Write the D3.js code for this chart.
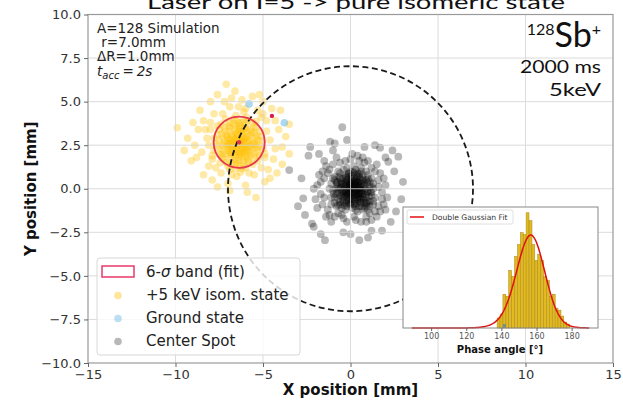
<!DOCTYPE html>
<html><head><meta charset="utf-8">
<script src="https://cdn.jsdelivr.net/npm/d3@7"></script>
<style>body{margin:0;background:#fff;} svg{display:block;}</style>
</head><body><svg id="c" width="623" height="401"></svg>
<script>
// ---- axis ticks ----
const xTicks = [-15, -10, -5, 0, 5, 10, 15];
const yTicks = [-10, -7.5, -5, -2.5, 0, 2.5, 5, 7.5, 10];
const phaseTicks = [100, 120, 140, 160, 180];

// ---- simulated ion hits [x mm, y mm] ----
const isomPoints = [
 [-6.4,2.6],[-6.0,2.9],[-6.8,2.3],[-5.9,2.2],[-7.0,2.9],[-6.2,3.3],[-6.6,1.9],[-5.5,2.7],[-7.3,2.5],[-6.1,1.6],
 [-6.9,3.5],[-5.7,3.4],[-7.5,2.0],[-5.3,2.1],[-6.5,3.9],[-6.3,1.3],[-7.6,3.1],[-5.1,3.0],[-5.8,1.5],[-7.1,1.5],
 [-6.7,2.7],[-6.2,2.4],[-5.9,2.6],[-6.5,2.2],[-6.9,2.1],[-6.0,3.5],[-6.4,3.0],[-5.6,2.3],[-7.2,3.3],[-6.6,1.4],
 [-5.4,3.5],[-7.7,2.6],[-6.1,3.9],[-5.2,2.5],[-6.9,1.1],[-7.4,3.7],[-5.5,1.8],[-6.3,2.0],[-6.8,3.1],[-5.8,3.0],
 [-7.0,2.4],[-6.2,2.8],[-5.7,1.9],[-6.6,3.4],[-5.0,2.3],[-7.8,2.2],[-6.4,1.6],[-5.6,3.8],[-7.3,1.8],[-6.0,1.2],
 [-6.7,4.0],[-5.3,1.6],[-7.5,3.4],[-6.1,2.1],[-6.5,2.9],[-5.9,3.3],[-6.9,2.6],[-6.3,3.6],[-5.4,2.9],[-7.1,2.0],
 [-6.3,2.5],[-6.1,2.7],[-6.6,2.8],[-6.5,2.4],[-6.2,3.1],[-6.8,2.5],[-6.0,2.4],[-6.4,2.1],[-6.7,2.2],[-5.8,2.8],
 [-6.9,2.8],[-6.3,3.3],[-5.9,2.0],[-7.0,2.2],[-6.5,3.2],[-5.6,2.6],[-7.2,2.7],[-6.2,1.8],[-6.8,1.8],[-5.7,3.1],
 [-7.1,3.1],[-6.0,3.7],[-6.6,3.6],[-5.4,2.4],[-7.4,2.3],[-6.4,1.8],[-5.9,1.8],[-6.9,3.3],[-5.5,3.2],[-7.3,2.9],
 [-6.1,2.9],[-6.5,2.6],[-6.3,2.8],[-6.7,3.0],[-6.0,2.2],[-6.2,2.3],[-6.6,2.1],[-5.8,2.4],[-7.0,2.6],[-6.4,3.4],
 [-5.5,2.0],[-7.2,1.7],[-6.1,1.4],[-6.8,1.5],[-5.3,2.8],[-7.5,2.8],[-6.3,3.8],[-5.9,3.9],[-6.9,3.8],[-5.2,3.3],
 [-8.2,2.9],[-8.5,2.1],[-8.0,3.8],[-4.6,2.8],[-4.4,1.7],[-4.8,3.9],[-6.0,4.6],[-6.9,4.7],[-5.3,4.5],[-7.8,4.3],
 [-6.5,0.7],[-7.4,0.9],[-5.5,0.8],[-4.7,1.1],[-8.1,1.3],[-8.7,3.4],[-3.9,2.4],[-4.1,3.4],[-6.2,5.1],[-7.2,5.0],
 [-5.6,5.3],[-8.9,2.5],[-7.0,0.3],[-6.0,0.2],[-4.9,0.4],[-8.4,0.8],[-9.3,2.9],[-3.5,2.0],[-3.7,3.0],[-6.6,5.6],
 [-7.1,6.0],[-6.9,-0.1],[-9.9,3.5],[-9.1,1.6],[-8.6,4.5],[-4.5,4.6],[-5.0,5.0],[-7.6,5.4],[-5.9,-0.2],[-7.6,0.1],
 [-4.2,0.9],[-9.5,2.2],[-3.5,3.7],[-8.0,5.0],[-5.4,-0.5],[-4.9,1.8],[-7.9,1.7],[-8.3,3.4],[-4.3,2.3],[-5.1,4.1],
 [-6.35,2.55],[-6.15,2.85],[-6.55,2.35],[-6.05,2.5],[-6.75,2.65],[-6.45,3.05],[-6.25,2.05],[-5.85,2.65],[-6.95,2.45],[-6.3,3.5],
 [-5.75,2.15],[-7.05,3.0],[-6.6,1.65],[-5.65,3.25],[-7.25,2.15],[-6.1,3.25],[-6.85,1.95],[-5.45,2.55],[-7.35,3.15],[-6.5,1.45],
 [-6.0,1.85],[-6.7,3.75],[-5.35,3.05],[-7.55,2.45],[-6.2,1.15],[-5.95,4.1],[-7.0,1.3],[-5.2,1.9],[-7.6,3.6],[-6.55,4.2],
 [-5.6,1.4],[-7.45,1.5],[-5.05,2.75],[-7.8,2.9],[-6.3,0.95],[-5.4,3.85],[-7.15,4.0],[-4.9,2.0],[-7.9,1.9],[-6.8,0.8],
 [-5.8,0.9],[-6.1,4.4],[-7.3,4.3],[-4.8,3.3],[-8.1,2.5],[-5.1,1.2],[-7.7,1.2],[-5.0,4.3],[-8.0,3.4],[-6.4,4.7],
 [-6.45,2.75],[-6.25,2.65],[-6.65,2.45],[-6.15,2.25],[-6.55,3.15],[-6.85,2.85],[-5.95,2.95],[-6.35,1.95],[-6.75,2.05],[-6.05,3.45],
 [-7.1,2.55],[-5.7,2.45],[-6.4,3.75],[-6.95,3.6],[-5.55,3.55],[-7.4,1.95],[-5.3,2.35],[-6.6,1.15],[-5.85,1.6],[-7.2,3.55],
 [-8.4,3.9],[-4.3,3.9],[-4.6,0.6],[-8.8,1.8],[-5.2,5.4],[-7.9,0.5],[-3.9,1.4],[-9.0,3.8],[-6.8,5.2],[-4.0,4.5]
];
const groundPoints = [[-5.8,4.87],[-3.78,3.79]];
const flaggedPoints = [[-4.49,4.18]];
const centerPoints = [
 [0.1,-0.1],[0.3,0.1],[-0.2,0.2],[0.4,-0.3],[-0.1,-0.4],[0.2,0.4],[-0.4,-0.1],[0.5,0.2],[0.0,0.3],[0.6,-0.1],
 [-0.3,-0.4],[0.3,-0.5],[-0.1,0.1],[0.2,-0.2],[-0.5,0.3],[0.4,0.4],[0.0,-0.6],[0.6,-0.5],[-0.3,0.4],[0.1,0.5],
 [-0.4,-0.5],[0.5,-0.3],[-0.2,-0.2],[0.3,0.3],[0.0,0.0],[0.2,-0.4],[-0.1,0.4],[0.4,0.0],[-0.3,0.0],[0.1,-0.3],
 [0.5,0.4],[-0.5,-0.2],[0.2,0.1],[-0.1,-0.6],[0.6,0.1],[0.3,-0.1],[-0.2,0.5],[0.0,-0.2],[0.4,-0.6],[-0.4,0.2],
 [0.1,0.2],[0.5,-0.1],[-0.2,-0.5],[0.3,0.5],[-0.6,0.0],[0.2,-0.6],[0.7,-0.3],[-0.1,-0.1],[0.4,0.2],[0.0,0.4],
 [1.0,-0.2],[0.9,0.5],[-0.8,0.4],[-0.7,-0.6],[0.8,-0.8],[0.2,0.9],[-0.3,0.8],[0.5,-1.0],[-0.2,-1.0],[1.1,0.1],
 [-1.0,-0.1],[0.7,0.8],[-0.6,0.9],[1.0,-0.7],[-0.9,-0.8],[0.3,-1.2],[-0.5,-1.1],[1.2,-0.4],[-1.1,0.3],[0.6,1.0],
 [0.0,1.0],[0.9,-1.0],[-0.8,-0.3],[1.3,0.3],[-0.6,-0.9],[0.4,0.9],[0.8,0.2],[-0.9,0.7],[1.1,-1.0],[-0.4,1.1],
 [0.1,-1.1],[1.2,0.6],[-1.1,-0.5],[0.7,-1.2],[-0.2,0.7],[0.9,-0.5],[-0.7,0.1],[0.5,0.7],[-0.4,-0.8],[1.0,0.8],
 [-1.2,0.0],[0.3,1.1],[0.6,-0.8],[-0.8,-1.0],[1.3,-0.7],[-0.1,0.9],[0.8,-0.1],[-0.6,0.6],[1.1,0.4],[0.2,-0.9],
 [-1.0,0.6],[0.7,0.5],[-0.3,-1.2],[1.2,-0.2],[0.9,1.0],[-0.5,0.3],[0.4,-1.3],[-0.9,-0.5],[1.0,-1.2],[-0.7,1.0],
 [0.0,-0.9],[1.3,0.0],[-1.1,-0.9],[0.6,1.2],[-0.2,1.2],[0.9,-0.8],[-0.8,0.0],[1.4,-0.5],[0.2,1.3],[-0.6,-0.4],
 [1.6,0.5],[-1.5,0.6],[1.4,-1.3],[-1.3,-1.2],[0.5,1.6],[-0.6,1.5],[0.9,-1.6],[-0.4,-1.7],[1.8,-0.2],[-1.7,-0.3],
 [1.2,1.2],[-1.2,1.1],[1.9,-0.9],[-1.6,-0.9],[0.3,-1.8],[-0.9,-1.6],[1.7,0.9],[-1.4,1.3],[0.0,1.7],[1.5,-1.6],
 [-1.9,0.2],[0.8,1.5],[-0.3,1.6],[1.2,-1.8],[-1.2,-1.5],[2.0,0.2],[-1.8,0.8],[0.6,-1.9],[-0.7,-1.4],[1.6,-1.0],
 [-1.5,-0.5],[1.0,1.6],[-1.0,1.4],[1.9,0.6],[-2.0,-0.6],[0.2,-1.6],[-0.2,-1.9],[1.4,1.0],[-1.3,0.9],[1.7,-1.3],
 [-1.6,1.0],[0.9,-1.9],[-0.8,1.8],[2.1,-0.5],[-1.9,-1.1],[0.4,1.9],[1.3,-0.9],[-1.4,-1.6],[1.5,1.4],[-0.5,-1.5],
 [1.8,-0.6],[-1.7,0.4],[0.7,1.8],[-1.1,-1.9],[1.1,-1.4],[-1.5,1.6],[2.0,-1.2],[-2.1,0.0],[0.1,2.0],[1.6,0.1],
 [-0.47,3.53],[-2.7,-0.55],[2.73,1.84],[-1.46,-2.95],[0.5,-2.95],[-3.5,1.07],[2.5,1.0],[-2.4,1.9],[2.3,-1.9],[-2.2,-2.0],
 [-0.9,2.6],[1.4,2.5],[2.9,-0.6],[-2.8,0.6],[0.0,-2.6],[1.8,-2.4],[-1.7,-2.6],[2.4,2.2],[-2.3,2.4],[-0.2,2.8],
 [3.0,0.4],[-3.0,-1.0],[1.0,-2.8],[-1.0,2.2],[2.0,1.8],[0.8,2.4],[-2.6,-1.5],[2.6,-1.3],[-1.8,2.0],[1.2,-2.4],
 [1.69,2.36],[2.16,1.55],[-1.17,2.7],[-2.1,-2.18],[-0.41,-2.5],
 [0.15,0.05],[-0.05,0.25],[0.35,-0.15],[0.25,0.25],[-0.25,-0.25],[0.45,-0.45],[0.05,-0.45],[-0.35,0.15],[0.55,0.05],[0.15,-0.55],
 [0.65,0.3],[-0.15,0.55],[0.75,-0.6],[-0.45,-0.65],[0.35,0.65],[0.85,0.0],[-0.55,0.45],[0.05,0.75],[0.55,-0.75],[-0.25,-0.8],
 [0.95,0.35],[-0.75,-0.2],[0.25,-0.85],[0.7,0.6],[-0.65,0.7],[1.05,-0.45],[-0.15,-0.35],[0.45,0.1],[0.1,0.1],[-0.05,-0.25],
 [0.3,-0.35],[0.6,-0.25],[-0.35,-0.15],[0.2,0.6],[0.85,-0.35],[-0.5,-0.4],[0.4,-0.85],[-0.1,0.85],[0.75,0.15],[-0.8,0.25],
 [1.15,-0.15],[0.5,0.85],[-0.3,0.3],[0.65,-1.0],[-0.6,-0.75],[0.0,-0.8],[0.9,-0.85],[-0.95,-0.3],[0.35,0.8],[1.2,0.15],
 [0.8,-1.1],[-0.2,-0.7],[0.55,0.55],[-0.45,0.6],[0.25,-0.7],[1.0,0.55],[-0.7,-0.95],[0.15,0.95],[0.7,-0.45],[-0.9,0.5],
 [0.45,-0.25],[0.05,0.55],[-0.15,0.0],[0.3,0.45],[0.6,-0.6],[-0.4,-0.3],[0.2,-0.15],[0.8,0.4],[-0.25,0.65],[0.5,-0.55],
 [1.1,-0.75],[-0.55,0.05],[0.0,0.15],[0.4,0.35],[0.65,-0.15],[-0.1,-0.85],[0.3,-1.0],[-0.75,0.35],[0.95,-0.15],[-0.35,-0.95]
];

// ---- fit / geometry (mm) ----
const bandCenter = [-6.36, 2.67];
const bandRadius = 1.46;
const detectorRadius = 7.0;

// ---- phase histogram ----
const phaseBinWidth = 1.65;
const phaseBins = [138.4,140.1,141.7,143.4,145.0,146.7,148.3,150.0,151.6,153.3,154.9,156.6,158.2,
                   159.9,161.5,163.2,164.8,166.5,168.1,169.8,171.4,173.1,174.7,176.4,178.0];
const phaseCounts = [5,7,17,16,29,26,36,42,48,47,58,54,42,34,37,34,26,24,16,17,10,9,6,3,2];
const groundBins = [141.7];
const groundCounts = [2];
// double gaussian fit: [amplitude, mean, sigma]
const fitParams = [[38,157.0,7.6],[9,154.5,10.5]];
const fitRange = [89, 190];

const svg = d3.select("#c");
const FONT = "DejaVu Sans, sans-serif";

const x = d3.scaleLinear().domain([-15, 15]).range([88, 613]);
const y = d3.scaleLinear().domain([-10, 10]).range([363, 14.5]);
const pxPerMm = x(1) - x(0);

// title (runs off the top edge)
svg.append("text").attr("x", 356).attr("y", 9).attr("text-anchor", "middle")
  .attr("font-family", "Lato, 'Open Sans', sans-serif").attr("font-size", 20)
  .attr("textLength", 418).attr("lengthAdjust", "spacingAndGlyphs")
  .attr("fill", "#111").text("Laser on I=5 -> pure isomeric state");

svg.append("rect").attr("x", x(-15)).attr("y", y(10)).attr("width", x(15) - x(-15))
  .attr("height", y(-10) - y(10)).attr("fill", "#fff");

const plot = svg.append("g");
const grid = svg.append("g").attr("stroke", "#d6d6d6").attr("stroke-width", 1).attr("opacity", 0.85);

// scatter layers
plot.selectAll("circle.iso").data(isomPoints).join("circle")
  .attr("cx", d => x(d[0])).attr("cy", d => y(d[1])).attr("r", 3.8)
  .attr("fill", "#ffc107").attr("fill-opacity", 0.36);
plot.selectAll("circle.gnd").data(groundPoints).join("circle")
  .attr("cx", d => x(d[0])).attr("cy", d => y(d[1])).attr("r", 3.8)
  .attr("fill", "#6cb8e6").attr("fill-opacity", 0.55);
plot.selectAll("circle.ctr").data(centerPoints).join("circle")
  .attr("cx", d => x(d[0])).attr("cy", d => y(d[1])).attr("r", 3.9)
  .attr("fill", "#000").attr("fill-opacity", 0.28);
plot.selectAll("circle.flag").data(flaggedPoints).join("circle")
  .attr("cx", d => x(d[0])).attr("cy", d => y(d[1])).attr("r", 2.2)
  .attr("fill", "#d81e4a");

// light grid drawn over the scatter
xTicks.slice(1, -1).forEach(t => grid.append("line")
  .attr("x1", x(t)).attr("x2", x(t)).attr("y1", y(10)).attr("y2", y(-10)));
yTicks.slice(1, -1).forEach(t => grid.append("line")
  .attr("x1", x(-15)).attr("x2", x(15)).attr("y1", y(t)).attr("y2", y(t)));

// detector acceptance circle
svg.append("circle").attr("cx", x(0)).attr("cy", y(0)).attr("r", detectorRadius * pxPerMm)
  .attr("fill", "none").attr("stroke", "#1a1a1a").attr("stroke-width", 1.8)
  .attr("stroke-dasharray", "6,3.5");

// 6-sigma band
svg.append("circle").attr("cx", x(bandCenter[0])).attr("cy", y(bandCenter[1]))
  .attr("r", bandRadius * pxPerMm).attr("fill", "none")
  .attr("stroke", "#e8384f").attr("stroke-width", 1.8);
svg.append("circle").attr("cx", x(bandCenter[0])).attr("cy", y(bandCenter[1]))
  .attr("r", 2.2).attr("fill", "#e8384f");

// frame
svg.append("rect").attr("x", x(-15)).attr("y", y(10)).attr("width", x(15) - x(-15))
  .attr("height", y(-10) - y(10)).attr("fill", "none").attr("stroke", "#9a9a9a").attr("stroke-width", 1.2);

// axes
const xAxis = svg.append("g").attr("transform", `translate(0,${y(-10)})`)
  .call(d3.axisBottom(x).tickValues(xTicks).tickFormat(d3.format("d")).tickSize(4).tickPadding(3));
const yAxis = svg.append("g").attr("transform", `translate(${x(-15)},0)`)
  .call(d3.axisLeft(y).tickValues(yTicks).tickFormat(d3.format(".1f")).tickSize(4).tickPadding(3));
[xAxis, yAxis].forEach(g => {
  g.select(".domain").remove();
  g.selectAll("line").attr("stroke", "#666");
  g.selectAll("text").attr("font-family", FONT).attr("font-size", 13).attr("fill", "#333");
});

svg.append("text").attr("x", x(0)).attr("y", 395).attr("text-anchor", "middle")
  .attr("font-family", FONT).attr("font-weight", "bold").attr("font-size", 15)
  .attr("fill", "#111").text("X position [mm]");
svg.append("text").attr("transform", `translate(36,${y(0)}) rotate(-90)`).attr("text-anchor", "middle")
  .attr("font-family", FONT).attr("font-weight", "bold").attr("font-size", 15)
  .attr("fill", "#111").text("Y position [mm]");

// simulation parameters
const info = svg.append("g").attr("font-family", FONT).attr("font-size", 13.5).attr("fill", "#222");
info.append("text").attr("x", 97).attr("y", 33).text("A=128 Simulation");
info.append("text").attr("x", 97).attr("y", 47).attr("xml:space", "preserve").text(" r=7.0mm");
info.append("text").attr("x", 97).attr("y", 61).text("\u0394R=1.0mm");
const tacc = info.append("text").attr("x", 97).attr("y", 76);
tacc.append("tspan").attr("font-style", "italic").text("t");
tacc.append("tspan").attr("font-style", "italic").attr("font-size", 10).attr("dy", 3).text("acc");
tacc.append("tspan").attr("dy", -3).attr("dx", 3).text("=");
tacc.append("tspan").attr("font-style", "italic").attr("dx", 3).text("2s");

// species label
const spFont = "Lato, 'Open Sans', sans-serif";
const sp = svg.append("text").attr("x", 601).attr("y", 47).attr("text-anchor", "end")
  .attr("font-family", spFont).attr("fill", "#111");
sp.append("tspan").attr("font-size", 16).attr("dy", -12).text("128");
sp.append("tspan").attr("font-size", 34).attr("dy", 12).text("Sb");
sp.append("tspan").attr("font-size", 16).attr("dy", -12).text("+");
svg.append("text").attr("x", 601).attr("y", 73).attr("text-anchor", "end")
  .attr("font-family", spFont).attr("font-size", 18).attr("fill", "#111")
  .attr("textLength", 81).attr("lengthAdjust", "spacingAndGlyphs").text("2000 ms");
svg.append("text").attr("x", 601).attr("y", 96).attr("text-anchor", "end")
  .attr("font-family", spFont).attr("font-size", 18).attr("fill", "#111")
  .attr("textLength", 52).attr("lengthAdjust", "spacingAndGlyphs").text("5keV");

// legend
const lg = svg.append("g");
lg.append("rect").attr("x", 97).attr("y", 258).attr("width", 203).attr("height", 97).attr("rx", 3)
  .attr("fill", "#fff").attr("fill-opacity", 0.8).attr("stroke", "#d8d8d8");
lg.append("rect").attr("x", 102).attr("y", 266).attr("width", 32).attr("height", 11)
  .attr("fill", "none").attr("stroke", "#e8386a").attr("stroke-width", 1.5);
const legItems = [
  {label: "6-\u03C3 band (fit)"},
  {label: "+5 keV isom. state", color: "#ffc107", op: 0.4},
  {label: "Ground state", color: "#6cb8e6", op: 0.45},
  {label: "Center Spot", color: "#000", op: 0.28}
];
legItems.forEach((d, i) => {
  const by = 277 + i * 23;
  if (d.color) lg.append("circle").attr("cx", 118).attr("cy", by - 4.5).attr("r", 3.8)
    .attr("fill", d.color).attr("fill-opacity", d.op);
  const t = lg.append("text").attr("x", 146).attr("y", by).attr("font-family", FONT)
    .attr("font-size", 15).attr("fill", "#222");
  if (i === 0) {
    t.append("tspan").text("6-");
    t.append("tspan").attr("font-style", "italic").text("\u03C3");
    t.append("tspan").text(" band (fit)");
  } else t.text(d.label);
});

// ---- inset: phase-angle histogram ----
const ix = d3.scaleLinear().domain([84, 195]).range([403, 598]);
const iy = d3.scaleLinear().domain([0, d3.max(phaseCounts) * 1.05]).range([328, 207]);
const ins = svg.append("g");
ins.append("rect").attr("x", 403).attr("y", 207).attr("width", 195).attr("height", 121).attr("fill", "#fff");
ins.selectAll("rect.bar").data(phaseBins).join("rect")
  .attr("x", (d) => ix(d - phaseBinWidth / 2)).attr("width", ix(phaseBinWidth) - ix(0))
  .attr("y", (d, i) => iy(phaseCounts[i])).attr("height", (d, i) => iy(0) - iy(phaseCounts[i]))
  .attr("fill", "#e3b920").attr("stroke", "#a88a20").attr("stroke-width", 0.5);
ins.selectAll("rect.gbar").data(groundBins).join("rect")
  .attr("x", (d) => ix(d - phaseBinWidth / 2)).attr("width", ix(phaseBinWidth) - ix(0))
  .attr("y", (d, i) => iy(groundCounts[i])).attr("height", (d, i) => iy(0) - iy(groundCounts[i]))
  .attr("fill", "#4d88b0").attr("fill-opacity", 0.8);
const fitX = d3.range(fitRange[0], fitRange[1] + 0.01, 0.5);
const fitY = a => d3.sum(fitParams, p => p[0] * Math.exp(-0.5 * ((a - p[1]) / p[2]) ** 2));
ins.append("path").attr("d", d3.line().x(d => ix(d)).y(d => iy(fitY(d)))(fitX))
  .attr("fill", "none").attr("stroke", "#e01010").attr("stroke-width", 1.5);
ins.append("rect").attr("x", 403).attr("y", 207).attr("width", 195).attr("height", 121)
  .attr("fill", "none").attr("stroke", "#888").attr("stroke-width", 1);
const iax = ins.append("g").attr("transform", "translate(0,328)")
  .call(d3.axisBottom(ix).tickValues(phaseTicks).tickSize(3).tickPadding(2));
iax.select(".domain").remove();
iax.selectAll("line").attr("stroke", "#666");
iax.selectAll("text").attr("font-family", FONT).attr("font-size", 8).attr("fill", "#555");
ins.append("text").attr("x", 500).attr("y", 353).attr("text-anchor", "middle")
  .attr("font-family", FONT).attr("font-weight", "bold").attr("font-size", 10).attr("fill", "#111")
  .text("Phase angle [\u00B0]");
ins.append("rect").attr("x", 407).attr("y", 210).attr("width", 106).attr("height", 14).attr("rx", 2)
  .attr("fill", "#fff").attr("stroke", "#d8d8d8").attr("stroke-width", 0.8);
ins.append("line").attr("x1", 410).attr("x2", 424).attr("y1", 217).attr("y2", 217)
  .attr("stroke", "#e01010").attr("stroke-width", 1.5);
ins.append("text").attr("x", 432).attr("y", 220).attr("font-family", FONT).attr("font-size", 7.6)
  .attr("fill", "#333").text("Double Gaussian Fit");
</script></body></html>
